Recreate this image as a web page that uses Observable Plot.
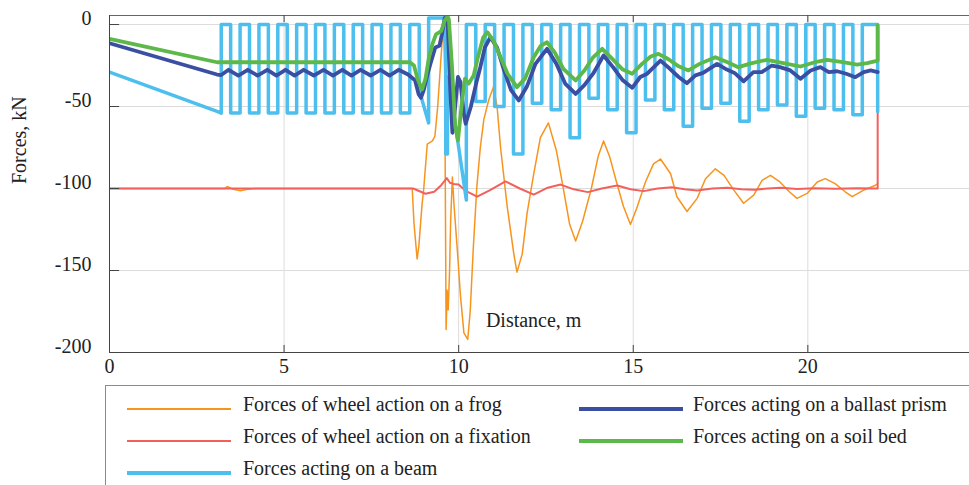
<!DOCTYPE html>
<html><head><meta charset="utf-8">
<script src="https://cdn.jsdelivr.net/npm/d3@7"></script>
<script src="https://cdn.jsdelivr.net/npm/@observablehq/plot@0.6"></script>
<style>
body{margin:0;background:#fff;font-family:"Liberation Serif","Times New Roman",serif;}
#wrap{position:relative;width:969px;height:485px;overflow:hidden}
#chart{position:absolute;left:0;top:0}
#legend{position:absolute;left:0;top:380px}
</style></head>
<body><div id="wrap"><div id="chart"></div><svg id="legend" width="969" height="105"></svg></div>
<script>
// ---- data ----
const xTicks = [0, 5, 10, 15, 20];
const yTicks = [0, -50, -100, -150, -200];
const seriesNames = ["Forces of wheel action on a frog","Forces of wheel action on a fixation","Forces acting on a beam","Forces acting on a ballast prism","Forces acting on a soil bed"];
const seriesColors = ["#F7941E","#F2605E","#4DBFEE","#3A4EA2","#5CB848"];

const frog = [[0,-100],[3.3,-100],[3.37,-98.8],[3.55,-100.5],[3.75,-101.3],[3.95,-100.5],[4.2,-100],[8.67,-100],[8.72,-121],[8.81,-143],[8.86,-135],[8.95,-110],[9.0,-100],[9.1,-73],[9.25,-71],[9.32,-68],[9.4,-50],[9.45,-34],[9.52,-12],[9.57,-4],[9.6,-30],[9.64,-186],[9.67,-162],[9.7,-174],[9.74,-150],[9.77,-120],[9.82,-93],[9.87,-111],[9.97,-140],[10.05,-165],[10.15,-188],[10.26,-192],[10.33,-175],[10.42,-136],[10.52,-99],[10.62,-75],[10.72,-58],[10.86,-46],[11.0,-38],[11.1,-50],[11.2,-75],[11.39,-111],[11.58,-140],[11.67,-151],[11.82,-140],[11.96,-115],[12.15,-91],[12.34,-69],[12.57,-60],[12.8,-77],[12.98,-98],[13.18,-122],[13.35,-132],[13.55,-120],[13.8,-100],[14.0,-80],[14.15,-71],[14.33,-81],[14.52,-96],[14.72,-111],[14.92,-122],[15.1,-112],[15.35,-96],[15.58,-85],[15.78,-82],[16.07,-91],[16.25,-105],[16.54,-114],[16.83,-106],[17.07,-94],[17.35,-88],[17.6,-92],[17.88,-101],[18.16,-109],[18.45,-104],[18.69,-95],[18.93,-92],[19.2,-96],[19.47,-102],[19.69,-106],[19.98,-103],[20.27,-96],[20.5,-94],[20.78,-97],[21.07,-102],[21.27,-105],[21.6,-101],[21.94,-98],[22.0,-97]];

const fixation = [[0,-100],[8.7,-100],[9.05,-103.2],[9.3,-102],[9.5,-98],[9.66,-93.7],[9.75,-96.5],[9.85,-97.2],[10.0,-97.5],[10.2,-101.5],[10.53,-105],[10.9,-101],[11.34,-95.7],[11.75,-100],[12.15,-103.7],[12.55,-99.5],[12.92,-97.6],[13.3,-100.5],[13.7,-102.2],[14.1,-100],[14.54,-98.2],[14.92,-100.5],[15.3,-101.6],[15.7,-100],[16.11,-99.2],[16.47,-100.5],[16.83,-101.2],[17.27,-100],[17.7,-99.6],[18.1,-100.5],[18.47,-100.8],[18.85,-100],[19.23,-99.6],[19.7,-100.3],[20.2,-99.8],[20.8,-100.1],[21.4,-99.8],[22.0,-100],[22.0,-52.4]];

// beam: initial ramp, then one pulse per sleeper (rise, top, fall, bottom)
const beamStart = [[0,-29],[3.08,-53],[3.2,-54]];
const beamRise = [3.20,3.74,4.28,4.82,5.36,5.90,6.44,6.98,7.52,8.06,8.60,9.14,9.68,10.22,10.76,11.30,11.84,12.38,12.92,13.46,14.00,14.54,15.08,15.62,16.16,16.70,17.24,17.78,18.32,18.86,19.40,19.94,20.48,21.02,21.56];
const beamFall = [3.47,4.01,4.55,5.09,5.63,6.17,6.71,7.25,7.79,8.33,8.87,9.63,9.72,10.49,11.03,11.57,12.11,12.65,13.19,13.73,14.27,14.81,15.35,15.89,16.43,16.97,17.51,18.05,18.59,19.13,19.67,20.21,20.75,21.29,22.00];
const beamHigh = [0,0,0,0,0,0,0,0,0,0,0,4,-32,0,0,0,0,0,0,0,0,0,0,0,0,0,0,0,0,0,0,0,0,0,0];
const beamLowA = [-54,-54,-54,-54,-54,-54,-54,-54,-54,-54,-40,-79,-34,-47,-50,-79,-48,-52,-69,-45,-52,-66,-46,-52,-62,-51,-48,-59,-52,-49,-56,-51,-52,-55,-53];
const beamLowB = [-54,-54,-54,-54,-54,-54,-54,-54,-54,-54,-60,-79,-107,-47,-50,-79,-48,-52,-69,-45,-52,-66,-46,-52,-62,-51,-48,-59,-52,-49,-56,-51,-52,-55,-53];

const ballast = [[0,-11.4],[3.08,-30.5],[3.2,-30.8],[3.41,-27.6],[3.69,-31.1],[3.96,-27.6],[4.24,-31.1],[4.52,-27.6],[4.78,-31.1],[5.04,-27.6],[5.30,-31.1],[5.56,-27.6],[5.85,-31.1],[6.13,-27.6],[6.40,-31.1],[6.67,-27.6],[6.93,-31.1],[7.19,-27.6],[7.48,-31.1],[7.76,-27.6],[8.02,-31.1],[8.28,-27.6],[8.55,-30.5],[8.75,-34],[8.85,-42.3],[8.92,-44.7],[9.0,-40],[9.1,-31],[9.19,-24],[9.33,-14],[9.45,-13],[9.52,-6],[9.6,4],[9.68,4],[9.76,-40],[9.82,-66],[9.9,-50],[9.98,-32],[10.05,-35],[10.15,-55],[10.2,-60.5],[10.35,-50],[10.5,-36],[10.62,-26],[10.75,-14],[10.91,-7.7],[11.1,-14],[11.3,-28],[11.5,-40],[11.72,-46.3],[11.95,-38],[12.2,-24],[12.53,-14.8],[12.8,-24],[13.05,-36],[13.35,-42.3],[13.6,-37],[13.85,-30],[14.15,-18.9],[14.42,-26],[14.7,-34],[14.97,-38.6],[15.2,-32],[15.4,-30],[15.78,-22],[16.05,-27],[16.3,-32],[16.54,-35.8],[16.78,-31],[17.0,-29.5],[17.4,-24],[17.68,-27.5],[17.9,-29.5],[18.16,-34.6],[18.44,-29],[18.68,-29],[18.97,-25],[19.2,-26],[19.5,-28],[19.79,-33.1],[20.08,-28],[20.36,-26],[20.6,-29],[20.84,-28.5],[21.1,-30],[21.36,-32.1],[21.6,-29],[21.8,-28],[22.0,-29]];

const soil = [[0,-8.7],[3.08,-23],[8.6,-23],[8.72,-25],[8.82,-33],[8.95,-39.5],[9.05,-33],[9.15,-20],[9.25,-11.8],[9.35,-6],[9.5,-4],[9.6,2.4],[9.68,5],[9.72,3],[9.81,-26],[9.9,-62],[9.98,-70.7],[10.1,-46],[10.18,-33],[10.29,-36],[10.43,-31],[10.55,-20],[10.7,-8],[10.82,-4.7],[11.0,-10],[11.2,-20],[11.4,-30],[11.67,-38.2],[11.9,-33],[12.15,-20],[12.35,-13],[12.53,-10.8],[12.75,-17],[13.0,-27],[13.35,-34.1],[13.6,-28],[13.85,-20],[14.11,-14.8],[14.4,-21],[14.7,-27.5],[14.97,-30],[15.25,-24],[15.5,-19.5],[15.72,-17.9],[16.0,-21],[16.3,-25.5],[16.58,-28],[16.9,-24],[17.35,-19.9],[17.7,-23],[18.01,-26],[18.4,-23.5],[18.83,-21.5],[19.3,-23.5],[19.79,-25.6],[20.2,-23],[20.55,-21.5],[21.0,-23],[21.41,-24.4],[21.7,-23.5],[22.0,-22],[22.0,-0.6]];

// ---- build beam polyline from pulse table ----
const beam = beamStart.slice();
for (let k = 0; k < beamRise.length; k++) {
  beam.push([beamRise[k], beamHigh[k]]);
  beam.push([beamFall[k], beamHigh[k]]);
  beam.push([beamFall[k], beamLowA[k]]);
  const end = k < beamRise.length - 1 ? beamRise[k + 1] : beamFall[k];
  beam.push([end, beamLowB[k]]);
}

const series = [frog, fixation, beam, ballast, soil];
const widths = [1.5, 2, 3.5, 3.8, 3.8];
const xMax = 24.63, yTop = 5.5;

const lineMarks = series.map((s, i) => Plot.line(s, {x: d => d[0], y: d => d[1], stroke: seriesColors[i], strokeWidth: widths[i], clip: true}));

const chart = Plot.plot({
  width: 969, height: 380,
  marginLeft: 109, marginRight: 0, marginTop: 15, marginBottom: 28,
  x: {domain: [0, xMax]},
  y: {domain: [-200, yTop]},
  style: {fontFamily: "'Liberation Serif','Times New Roman',serif", fontSize: "20px", color: "#222", background: "#fff"},
  marks: [
    Plot.gridX(xTicks.slice(1), {stroke: "#dcdcdc", strokeOpacity: 1}),
    Plot.gridY(yTicks.slice(0, 4), {stroke: "#dcdcdc", strokeOpacity: 1}),
    ...lineMarks,
    Plot.ruleY([yTop], {stroke: "#666"}),
    Plot.ruleX([0], {stroke: "#444"}),
    Plot.ruleY([-200], {stroke: "#444"}),
    Plot.ruleY(yTicks, {y: d => d, x1: 0, x2: 0.29, stroke: "#444"}),
    Plot.ruleX(xTicks.slice(1), {x: d => d, y1: -200, y2: -195.7, stroke: "#444"}),
    Plot.ruleX(xTicks.slice(1), {x: d => d, y1: yTop, y2: yTop - 4.3, stroke: "#444"}),
    Plot.axisX(xTicks, {tickSize: 0, tickPadding: 6, tickFormat: d => String(d), label: null, fontSize: 20}),
    Plot.axisY(yTicks, {tickSize: 0, tickPadding: 18, tickFormat: d => String(d), label: null, fontSize: 20, dy: -6}),
    Plot.text(["Forces, kN"], {frameAnchor: "left", dx: -90, rotate: -90, fontSize: 20, fill: "#222"}),
    Plot.text(["Distance, m"], {x: 10.78, y: -180.5, textAnchor: "start", fontSize: 20, fill: "#222"})
  ]
});
document.getElementById("chart").appendChild(chart);

// ---- legend ----
const lg = d3.select("#legend");
lg.append("rect").attr("x", 105.5).attr("y", 5.5).attr("width", 900).attr("height", 140)
  .attr("fill", "none").attr("stroke", "#8a8a8a");
const legendWidths = [2, 2, 4, 4, 4];
const cols = [[127, 243], [579, 693]];
const rows = [31, 63, 95];
seriesNames.forEach((name, i) => {
  const c = i < 3 ? cols[0] : cols[1];
  const r = rows[i < 3 ? i : i - 3];
  lg.append("line").attr("x1", c[0]).attr("x2", c[0] + 104).attr("y1", r - 2).attr("y2", r - 2)
    .attr("stroke", seriesColors[i]).attr("stroke-width", legendWidths[i]);
  lg.append("text").attr("x", c[1]).attr("y", r).text(name)
    .attr("font-family", "'Liberation Serif','Times New Roman',serif").attr("font-size", 20).attr("fill", "#222");
});
</script>
</body></html>
